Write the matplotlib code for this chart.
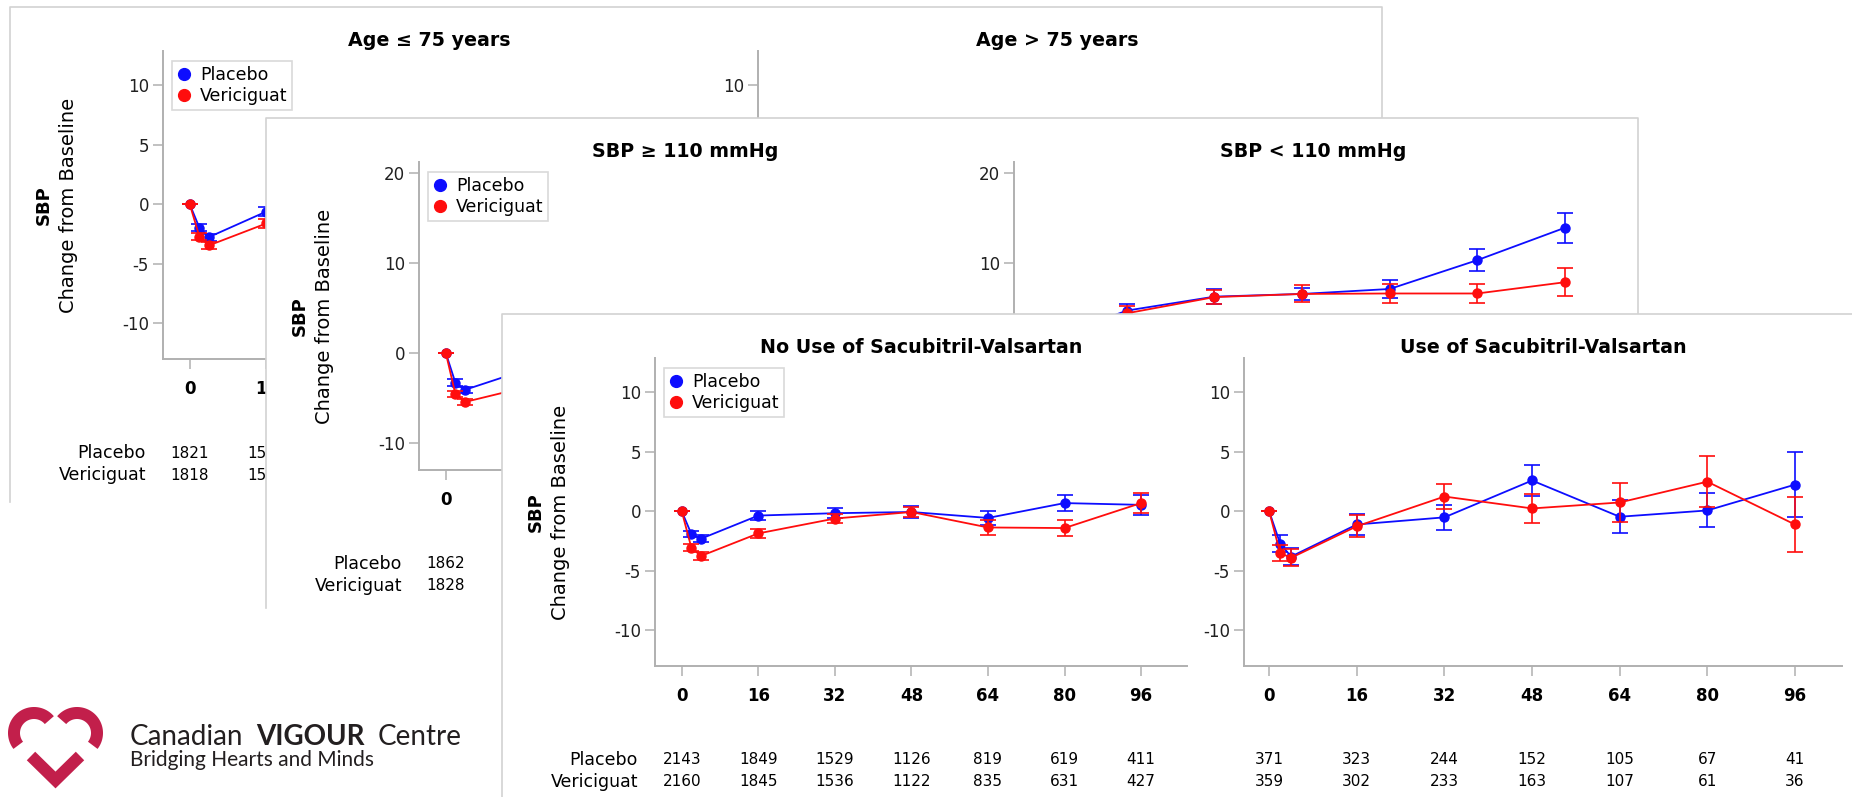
import numpy as np
import matplotlib
matplotlib.use("Agg")
import matplotlib.pyplot as plt
from matplotlib.patches import Rectangle
from matplotlib.lines import Line2D
from matplotlib.transforms import blended_transform_factory

plt.rcParams['axes.unicode_minus'] = False

W, H = 1852, 797

weeks = [0, 2, 4, 16, 32, 48, 64, 80, 96]
tick_weeks = [0, 16, 32, 48, 64, 80, 96]

# --- Age <= 75 / Age > 75 (back slide, mostly hidden)
age_lo_pbo = [0, -1.95, -2.75, -0.6, -0.4, -0.3, -0.8, 0.0, 0.3]
age_lo_pbo_err = [0, 0.28, 0.3, 0.35, 0.4, 0.45, 0.55, 0.65, 0.8]
age_lo_ver = [0, -2.7, -3.45, -1.6, -0.9, -0.3, -1.5, -1.6, 0.2]
age_lo_ver_err = [0, 0.3, 0.3, 0.35, 0.4, 0.45, 0.55, 0.65, 0.8]
age_lo_n_pbo = [1821, 1573, 1284, 925, 669, 497, 327]
age_lo_n_ver = [1818, 1550, 1277, 928, 680, 500, 334]

age_hi_pbo = [0, -2.5, -3.2, -0.8, -0.5, 0.2, -0.6, 0.5, 0.8]
age_hi_pbo_err = [0, 0.5, 0.5, 0.6, 0.7, 0.8, 1.0, 1.2, 1.5]
age_hi_ver = [0, -4.0, -4.5, -2.2, -1.2, -0.4, -1.3, -1.0, 0.5]
age_hi_ver_err = [0, 0.5, 0.5, 0.6, 0.7, 0.8, 1.0, 1.2, 1.5]
age_hi_n_pbo = [693, 599, 489, 353, 255, 189, 125]
age_hi_n_ver = [701, 597, 492, 357, 262, 192, 129]

# --- SBP >= 110 / SBP < 110 (middle slide)
sbp_hi_pbo = [0, -3.3, -4.1, -2.0, -1.8, -1.5, -2.1, -1.3, -1.6]
sbp_hi_pbo_err = [0, 0.35, 0.35, 0.4, 0.45, 0.5, 0.6, 0.7, 0.9]
sbp_hi_ver = [0, -4.55, -5.45, -3.9, -2.9, -2.2, -3.0, -3.0, -1.8]
sbp_hi_ver_err = [0, 0.35, 0.35, 0.4, 0.45, 0.5, 0.6, 0.7, 0.9]
sbp_hi_n_pbo = [1862, 1609, 1313, 947, 684, 508, 335]
sbp_hi_n_ver = [1828, 1558, 1284, 932, 684, 502, 336]

sbp_lo_pbo = [0, 1.0, 2.0, 4.7, 6.25, 6.55, 7.1, 10.3, 13.9]
sbp_lo_pbo_err = [0, 0.6, 0.6, 0.7, 0.8, 0.7, 1.0, 1.2, 1.65]
sbp_lo_ver = [0, 0.5, 1.5, 4.4, 6.2, 6.55, 6.6, 6.6, 7.85]
sbp_lo_ver_err = [0, 0.6, 0.6, 0.8, 0.75, 0.95, 1.07, 1.1, 1.55]
sbp_lo_n_pbo = [652, 563, 460, 331, 240, 178, 117]
sbp_lo_n_ver = [691, 589, 485, 353, 258, 190, 127]

# --- No use / Use of sacubitril-valsartan (front slide)
no_sv_pbo = [0, -1.9, -2.3, -0.35, -0.15, -0.05, -0.55, 0.7, 0.55]
no_sv_pbo_err = [0, 0.25, 0.3, 0.4, 0.43, 0.48, 0.57, 0.7, 0.85]
no_sv_ver = [0, -3.05, -3.75, -1.85, -0.6, -0.05, -1.35, -1.4, 0.7]
no_sv_ver_err = [0, 0.3, 0.33, 0.4, 0.35, 0.46, 0.6, 0.67, 0.85]
no_sv_n_pbo = [2143, 1849, 1529, 1126, 819, 619, 411]
no_sv_n_ver = [2160, 1845, 1536, 1122, 835, 631, 427]

sv_pbo = [0, -2.7, -3.8, -1.1, -0.5, 2.6, -0.45, 0.08, 2.25]
sv_pbo_err = [0, 0.68, 0.7, 0.85, 1.05, 1.28, 1.4, 1.43, 2.75]
sv_ver = [0, -3.5, -3.9, -1.25, 1.25, 0.25, 0.75, 2.5, -1.1]
sv_ver_err = [0, 0.7, 0.73, 0.93, 1.07, 1.2, 1.67, 2.15, 2.35]
sv_n_pbo = [371, 323, 244, 152, 105, 67, 41]
sv_n_ver = [359, 302, 233, 163, 107, 61, 36]

BLUE = '#0d0dff'
RED = '#ff0d0d'
AXCOL = '#b0b0b0'
BORDER = '#d2d2d2'
SLIDE_W = 1372

# slide frames: left, top, height (pixels)
slides = [(10, 7, 495), (266, 118, 490), (502, 314, 490)]

fig = plt.figure(figsize=(W / 100, H / 100), dpi=100)


def axes_px(x0, y0, x1, y1, z):
    ax = fig.add_axes([x0 / W, 1 - y1 / H, (x1 - x0) / W, (y1 - y0) / H])
    ax.set_zorder(z)
    ax.set_facecolor('none')
    return ax


def subplot(ax, title, series, n_pbo, n_ver, xlim, ylim, yticks, first):
    pbo, pbo_err, ver, ver_err = series
    ax.errorbar(weeks, pbo, yerr=pbo_err, color=BLUE, marker='o', ms=6.5,
                lw=1.3, elinewidth=1.2, capsize=5.5, capthick=1.2, zorder=3)
    ax.errorbar(weeks, ver, yerr=ver_err, color=RED, marker='o', ms=6.5,
                lw=1.3, elinewidth=1.2, capsize=5.5, capthick=1.2, zorder=4)
    ax.set_xlim(*xlim)
    ax.set_ylim(*ylim)
    ax.set_xticks(tick_weeks)
    ax.set_xticklabels([str(t) for t in tick_weeks], fontsize=12, fontweight='bold')
    ax.set_yticks(yticks)
    ax.set_yticklabels([str(t) for t in yticks], fontsize=12, color='#202020')
    for s in ['top', 'right']:
        ax.spines[s].set_visible(False)
    for s in ['left', 'bottom']:
        ax.spines[s].set_color(AXCOL)
        ax.spines[s].set_linewidth(1.4)
    ax.tick_params(axis='both', direction='out', length=7, width=1.1, color=AXCOL)
    ax.tick_params(axis='x', pad=8)
    ax.tick_params(axis='y', pad=3)
    ax.set_title(title, fontsize=13.7, fontweight='bold', pad=3.5)

    wpx = ax.get_position().width * W
    tr = blended_transform_factory(ax.transData, ax.transAxes)
    rows = [(308 - 402) / 308, (308 - 424) / 308]
    for r, counts in zip(rows, [n_pbo, n_ver]):
        for wk, c in zip(tick_weeks, counts):
            ax.text(wk, r, str(c), transform=tr, ha='center', va='center', fontsize=11)

    if first:
        for r, lab in zip(rows, ['Placebo', 'Vericiguat']):
            ax.text(-17 / wpx, r, lab, transform=ax.transAxes,
                    ha='right', va='center', fontsize=12.5)
        ax.text(-119 / wpx, 0.5, 'SBP', transform=ax.transAxes, rotation=90,
                ha='center', va='center', fontsize=13, fontweight='bold')
        ax.text(-95 / wpx, 0.5, 'Change from Baseline', transform=ax.transAxes,
                rotation=90, ha='center', va='center', fontsize=14)
        handles = [Line2D([], [], ls='none', marker='o', ms=8.5, color=BLUE, label='Placebo'),
                   Line2D([], [], ls='none', marker='o', ms=8.5, color=RED, label='Vericiguat')]
        leg = ax.legend(handles=handles, loc='upper left',
                        bbox_to_anchor=(9 / wpx, 1 - 10 / 308), borderaxespad=0,
                        fontsize=12.5, fancybox=False, edgecolor='#d0d0d0',
                        handlelength=0.8, handletextpad=0.5, labelspacing=0.15,
                        borderpad=0.3)
        leg.get_frame().set_linewidth(1.2)


def slide(idx, roff, left, right, ylim, yticks):
    px, py, h = slides[idx]
    z = 10 * (idx + 1)
    rect = Rectangle((px / W, 1 - (py + h) / H), SLIDE_W / W, h / H,
                     transform=fig.transFigure, facecolor='white',
                     edgecolor='none', zorder=z)
    fig.add_artist(rect)
    # frame on top, left and right only
    xs = [px, px, px + SLIDE_W, px + SLIDE_W]
    ys = [py + h, py, py, py + h]
    fig.add_artist(Line2D([x / W for x in xs], [1 - y / H for y in ys],
                          transform=fig.transFigure, color=BORDER, lw=1.2,
                          zorder=z + 0.5))
    axl = axes_px(px + 153, py + 44, px + 685, py + 352, z + 1)
    axr = axes_px(px + roff, py + 44, px + roff + 598, py + 352, z + 1)
    subplot(axl, *left, xlim=(-5.6, 105.6), ylim=ylim, yticks=yticks, first=True)
    subplot(axr, *right, xlim=(-4.6, 104.6), ylim=ylim, yticks=yticks, first=False)


slide(0, 748,
      ('Age ≤ 75 years', (age_lo_pbo, age_lo_pbo_err, age_lo_ver, age_lo_ver_err),
       age_lo_n_pbo, age_lo_n_ver),
      ('Age > 75 years', (age_hi_pbo, age_hi_pbo_err, age_hi_ver, age_hi_ver_err),
       age_hi_n_pbo, age_hi_n_ver),
      (-13, 12.9), [-10, -5, 0, 5, 10])

slide(1, 748,
      ('SBP ≥ 110 mmHg', (sbp_hi_pbo, sbp_hi_pbo_err, sbp_hi_ver, sbp_hi_ver_err),
       sbp_hi_n_pbo, sbp_hi_n_ver),
      ('SBP < 110 mmHg', (sbp_lo_pbo, sbp_lo_pbo_err, sbp_lo_ver, sbp_lo_ver_err),
       sbp_lo_n_pbo, sbp_lo_n_ver),
      (-13, 21.2), [-10, 0, 10, 20])

slide(2, 742,
      ('No Use of Sacubitril-Valsartan', (no_sv_pbo, no_sv_pbo_err, no_sv_ver, no_sv_ver_err),
       no_sv_n_pbo, no_sv_n_ver),
      ('Use of Sacubitril-Valsartan', (sv_pbo, sv_pbo_err, sv_ver, sv_ver_err),
       sv_n_pbo, sv_n_ver),
      (-13, 12.9), [-10, -5, 0, 5, 10])

# logo, bottom left
lax = fig.add_axes([0, 0, 1, 1])
lax.set_xlim(0, W)
lax.set_ylim(H, 0)
lax.axis('off')
lax.set_zorder(-1)
LOGO = '#c21f4b'
lw_heart = 12 * 0.72


def arc(cx, cy, r, a0, a1):
    t = np.radians(np.linspace(a0, a1, 80))
    return cx + r * np.cos(t), cy - r * np.sin(t)


x, y = arc(34, 733, 20, 40, 218)
lax.plot(x, y, color=LOGO, lw=lw_heart, solid_capstyle='butt')
x, y = arc(77, 733, 20, 140, -38)
lax.plot(x, y, color=LOGO, lw=lw_heart, solid_capstyle='butt')
lax.plot([31, 55.5, 80], [756, 780, 756], color=LOGO, lw=lw_heart,
         solid_capstyle='butt', solid_joinstyle='miter')

tc = '#231f20'
lax.text(130, 745, 'Canadian', fontsize=20, family='Lato', color=tc, va='baseline')
lax.text(256, 745, 'VIGOUR', fontsize=20, family='Lato', fontweight='bold', color=tc, va='baseline')
lax.text(378, 745, 'Centre', fontsize=20, family='Lato', color=tc, va='baseline')
lax.text(130, 766, 'Bridging Hearts and Minds', fontsize=15, family='Lato', color=tc, va='baseline')

fig.savefig('out.png', dpi=100)
